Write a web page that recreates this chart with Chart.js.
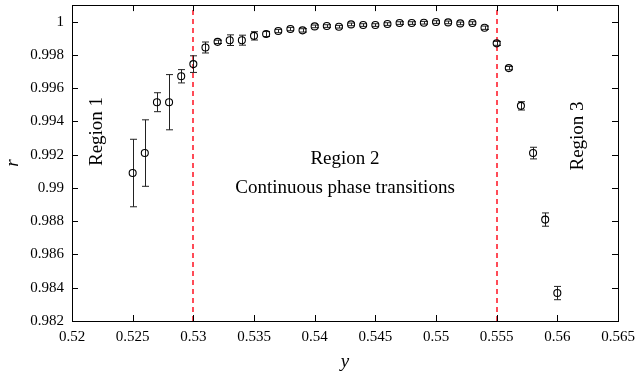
<!DOCTYPE html>
<html lang="en">
<head>
<meta charset="UTF-8">
<title>r vs y</title>
<script src="https://cdn.jsdelivr.net/npm/chart.js"></script>
<style>
  body { margin: 0; padding: 0; background: #fff; }
  #wrap { width: 636px; height: 377px; }
</style>
</head>
<body>
<div id="wrap"><canvas id="chart" width="636" height="377"></canvas></div>
<script>
// data
const yValues = [0.525, 0.526, 0.527, 0.528, 0.529, 0.530, 0.531, 0.532, 0.533, 0.534,
                 0.535, 0.536, 0.537, 0.538, 0.539, 0.540, 0.541, 0.542, 0.543, 0.544,
                 0.545, 0.546, 0.547, 0.548, 0.549, 0.550, 0.551, 0.552, 0.553, 0.554,
                 0.555, 0.556, 0.557, 0.558, 0.559, 0.560];
const rValues = [0.9909, 0.9921, 0.99516, 0.99516, 0.99672, 0.99745, 0.99845, 0.99879, 0.99889, 0.99889,
                 0.99915, 0.99926, 0.99944, 0.99956, 0.99948, 0.99972, 0.99974, 0.9997, 0.99984, 0.9998,
                 0.9998, 0.99986, 0.99992, 0.99992, 0.99994, 0.99998, 0.99996, 0.9999, 0.99992, 0.99964,
                 0.9987, 0.99721, 0.99494, 0.9921, 0.9881, 0.98368];
const rErrors = [0.00203, 0.002, 0.00057, 0.00166, 0.0004, 0.0005, 0.00033, 0.0001, 0.00032, 0.0003,
                 0.00025, 0.00015, 0.0001, 0.0001, 0.0001, 0.00008, 0.00008, 0.00008, 0.00008, 0.00008,
                 0.00008, 0.00008, 0.00008, 0.00008, 0.00008, 0.00008, 0.00008, 0.00008, 0.00008, 0.0001,
                 0.00012, 0.0001, 0.00025, 0.00035, 0.0004, 0.0004];
const boundaries = [0.53, 0.555];
const xTicks = [0.52, 0.525, 0.53, 0.535, 0.54, 0.545, 0.55, 0.555, 0.56, 0.565];
const yTicks = [0.982, 0.984, 0.986, 0.988, 0.99, 0.992, 0.994, 0.996, 0.998, 1];
const labels = [
  { text: 'Region 1', x: 0.5221, y: 0.9934, rot: true },
  { text: 'Region 2', x: 0.5425, y: 0.99176, rot: false },
  { text: 'Continuous phase transitions', x: 0.5425, y: 0.98997, rot: false },
  { text: 'Region 3', x: 0.56174, y: 0.99313, rot: true }
];

const serif = '"Liberation Serif", "DejaVu Serif", serif';
const fmt = v => String(Number(v.toFixed(3)));

// frame, inward ticks, boundaries, error bars, texts
const decorations = {
  id: 'decorations',
  beforeDatasetsDraw(chart) {
    const { ctx, chartArea: a, scales: { x, y } } = chart;
    ctx.save();
    // red dashed boundaries
    ctx.strokeStyle = '#ff1020';
    ctx.lineWidth = 1.5;
    ctx.setLineDash([5, 4]);
    boundaries.forEach(b => {
      const px = Math.round(x.getPixelForValue(b));
      ctx.beginPath();
      ctx.moveTo(px, a.bottom);
      ctx.lineTo(px, a.top);
      ctx.stroke();
    });
    ctx.setLineDash([]);
    // error bars
    ctx.strokeStyle = '#222';
    ctx.lineWidth = 1;
    yValues.forEach((v, i) => {
      const px = Math.round(x.getPixelForValue(v)) + 0.5;
      const top = y.getPixelForValue(rValues[i] + rErrors[i]);
      const bot = y.getPixelForValue(rValues[i] - rErrors[i]);
      ctx.beginPath();
      ctx.moveTo(px, top); ctx.lineTo(px, bot);
      ctx.moveTo(px - 3.5, top); ctx.lineTo(px + 3.5, top);
      ctx.moveTo(px - 3.5, bot); ctx.lineTo(px + 3.5, bot);
      ctx.stroke();
    });
    ctx.restore();
  },
  afterDraw(chart) {
    const { ctx, chartArea: a, scales: { x, y } } = chart;
    ctx.save();
    ctx.strokeStyle = '#000';
    ctx.lineWidth = 1;
    ctx.beginPath();
    xTicks.forEach(t => {
      const px = Math.round(x.getPixelForValue(t)) + 0.5;
      ctx.moveTo(px, a.bottom); ctx.lineTo(px, a.bottom - 6);
      ctx.moveTo(px, a.top); ctx.lineTo(px, a.top + 6);
    });
    yTicks.forEach(t => {
      const py = Math.round(y.getPixelForValue(t)) + 0.5;
      ctx.moveTo(a.left, py); ctx.lineTo(a.left + 6, py);
      ctx.moveTo(a.right, py); ctx.lineTo(a.right - 6, py);
    });
    ctx.stroke();
    ctx.strokeRect(Math.round(a.left) + 0.5, Math.round(a.top) + 0.5,
                   Math.round(a.right - a.left), Math.round(a.bottom - a.top));
    // annotations
    ctx.fillStyle = '#000';
    ctx.font = '19px ' + serif;
    ctx.textAlign = 'center';
    ctx.textBaseline = 'middle';
    labels.forEach(l => {
      const px = x.getPixelForValue(l.x);
      const py = y.getPixelForValue(l.y);
      ctx.save();
      ctx.translate(px, py);
      if (l.rot) ctx.rotate(-Math.PI / 2);
      ctx.fillText(l.text, 0, 0);
      ctx.restore();
    });
    ctx.restore();
  }
};

new Chart(document.getElementById('chart'), {
  type: 'scatter',
  data: {
    datasets: [{
      data: yValues.map((v, i) => ({ x: v, y: rValues[i] })),
      showLine: false,
      pointStyle: 'circle',
      pointRadius: 3.5,
      pointBorderWidth: 1.1,
      pointBorderColor: '#000',
      pointBackgroundColor: 'rgba(0,0,0,0)'
    }]
  },
  options: {
    responsive: false,
    animation: false,
    layout: { padding: { left: 0, right: 18, top: 3, bottom: 0 } },
    plugins: { legend: { display: false }, tooltip: { enabled: false } },
    scales: {
      x: {
        type: 'linear',
        min: 0.52,
        max: 0.565,
        afterBuildTicks: s => { s.ticks = xTicks.map(v => ({ value: v })); },
        afterFit: s => { s.height = 56; s.paddingLeft = 0; s.paddingRight = 0; },
        grid: { display: false, drawTicks: false },
        border: { display: false },
        ticks: { color: '#000', padding: 7, maxRotation: 0, autoSkip: false,
                 font: { family: serif, size: 15 }, callback: v => fmt(v) },
        title: { display: true, text: 'y', color: '#000', padding: { top: 0 },
                 font: { family: serif, size: 19, style: 'italic' } }
      },
      y: {
        type: 'linear',
        min: 0.982,
        max: 1.001,
        afterBuildTicks: s => { s.ticks = yTicks.map(v => ({ value: v })); },
        afterFit: s => { s.width = 72; s.paddingTop = 0; s.paddingBottom = 0; },
        grid: { display: false, drawTicks: false },
        border: { display: false },
        ticks: { color: '#000', padding: 8, autoSkip: false,
                 font: { family: serif, size: 15 }, callback: v => fmt(v) },
        title: { display: true, text: 'r', color: '#000', padding: { top: 2, bottom: 0 },
                 font: { family: serif, size: 19, style: 'italic' } }
      }
    }
  },
  plugins: [decorations]
});
</script>
</body>
</html>
